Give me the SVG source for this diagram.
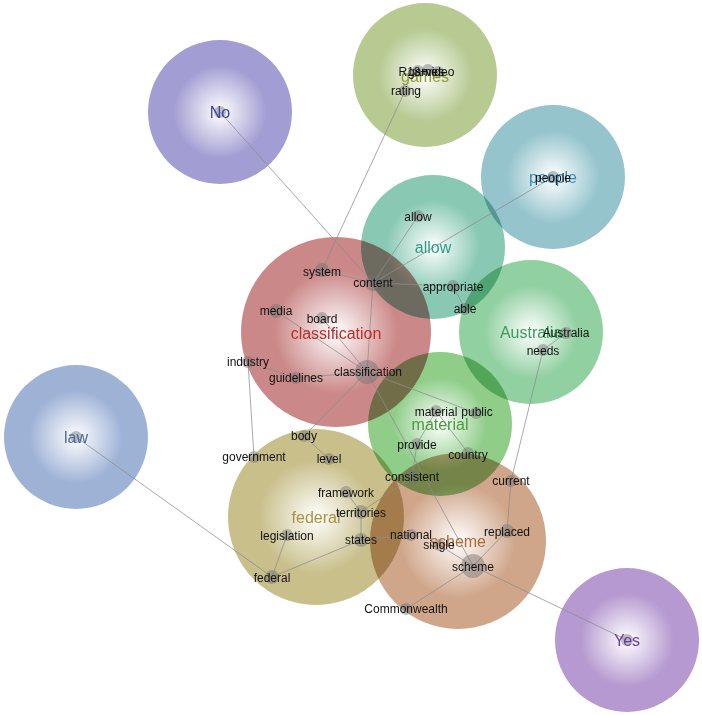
<svg xmlns="http://www.w3.org/2000/svg" width="702" height="715" viewBox="0 0 702 715">
<style>
.theme circle.bg{mix-blend-mode:multiply}
.tl{font-family:"Liberation Sans",Arial,sans-serif;font-size:16px;text-anchor:middle}
.cl{font-family:"Liberation Sans",Arial,sans-serif;font-size:12px;fill:#111;text-anchor:middle}
.dot{fill:#707070;fill-opacity:0.45}
#edges line{stroke:#8c8c8c;stroke-width:1;stroke-opacity:0.75}
</style>
<defs>
<radialGradient id="gNo"><stop offset="0" stop-color="#ffffff"/><stop offset="0.65" stop-color="#a29dd2"/></radialGradient>
<radialGradient id="gGames"><stop offset="0" stop-color="#ffffff"/><stop offset="0.65" stop-color="#b6ca92"/></radialGradient>
<radialGradient id="gPeople"><stop offset="0" stop-color="#ffffff"/><stop offset="0.65" stop-color="#95c4cd"/></radialGradient>
<radialGradient id="gAllow"><stop offset="0" stop-color="#ffffff"/><stop offset="0.65" stop-color="#89c9b4"/></radialGradient>
<radialGradient id="gAus"><stop offset="0" stop-color="#ffffff"/><stop offset="0.65" stop-color="#91d0a1"/></radialGradient>
<radialGradient id="gClass"><stop offset="0" stop-color="#ffffff"/><stop offset="0.65" stop-color="#cb8888"/></radialGradient>
<radialGradient id="gMat"><stop offset="0" stop-color="#ffffff"/><stop offset="0.65" stop-color="#8fcd89"/></radialGradient>
<radialGradient id="gLaw"><stop offset="0" stop-color="#ffffff"/><stop offset="0.65" stop-color="#9eb2d6"/></radialGradient>
<radialGradient id="gFed"><stop offset="0" stop-color="#ffffff"/><stop offset="0.65" stop-color="#c9bf8b"/></radialGradient>
<radialGradient id="gSch"><stop offset="0" stop-color="#ffffff"/><stop offset="0.65" stop-color="#d0a68a"/></radialGradient>
<radialGradient id="gYes"><stop offset="0" stop-color="#ffffff"/><stop offset="0.65" stop-color="#b699d0"/></radialGradient>
</defs>
<rect width="702" height="715" fill="#ffffff"/>

<g id="themes">
<g id="theme-no" class="theme"><circle class="bg" cx="220" cy="112" r="72" fill="url(#gNo)"/></g>
<g id="theme-games" class="theme"><circle class="bg" cx="425" cy="75" r="72" fill="url(#gGames)"/></g>
<g id="theme-people" class="theme"><circle class="bg" cx="553" cy="177" r="72" fill="url(#gPeople)"/></g>
<g id="theme-allow" class="theme"><circle class="bg" cx="433" cy="247" r="72" fill="url(#gAllow)"/></g>
<g id="theme-australia" class="theme"><circle class="bg" cx="531" cy="332" r="72" fill="url(#gAus)"/></g>
<g id="theme-classification" class="theme"><circle class="bg" cx="336" cy="332" r="95" fill="url(#gClass)"/></g>
<g id="theme-material" class="theme"><circle class="bg" cx="440" cy="424" r="72" fill="url(#gMat)"/></g>
<g id="theme-law" class="theme"><circle class="bg" cx="76" cy="437" r="72" fill="url(#gLaw)"/></g>
<g id="theme-federal" class="theme"><circle class="bg" cx="316" cy="517" r="88" fill="url(#gFed)"/></g>
<g id="theme-scheme" class="theme"><circle class="bg" cx="458" cy="541" r="88" fill="url(#gSch)"/></g>
<g id="theme-yes" class="theme"><circle class="bg" cx="627" cy="640" r="72" fill="url(#gYes)"/></g>
</g>

<g id="edges">
<line x1="220" y1="112" x2="373" y2="283"/>
<line x1="405" y1="91" x2="322" y2="270"/>
<line x1="322" y1="270" x2="373" y2="283"/>
<line x1="373" y1="283" x2="418" y2="216"/>
<line x1="373" y1="283" x2="553" y2="177"/>
<line x1="373" y1="283" x2="453" y2="286"/>
<line x1="453" y1="286" x2="465" y2="309"/>
<line x1="373" y1="283" x2="367" y2="372"/>
<line x1="276" y1="311" x2="367" y2="372"/>
<line x1="322" y1="318" x2="367" y2="372"/>
<line x1="296" y1="378" x2="367" y2="372"/>
<line x1="248" y1="362" x2="296" y2="378"/>
<line x1="248" y1="362" x2="254" y2="457"/>
<line x1="367" y1="372" x2="304" y2="436"/>
<line x1="304" y1="436" x2="329" y2="459"/>
<line x1="367" y1="372" x2="476" y2="413"/>
<line x1="367" y1="372" x2="473" y2="566"/>
<line x1="436" y1="411" x2="468" y2="453"/>
<line x1="436" y1="411" x2="417" y2="444"/>
<line x1="417" y1="444" x2="412" y2="477"/>
<line x1="566" y1="333" x2="543" y2="350"/>
<line x1="543" y1="350" x2="511" y2="481"/>
<line x1="511" y1="481" x2="507" y2="531"/>
<line x1="507" y1="531" x2="473" y2="566"/>
<line x1="439" y1="545" x2="473" y2="566"/>
<line x1="411" y1="535" x2="361" y2="540"/>
<line x1="412" y1="477" x2="361" y2="512"/>
<line x1="346" y1="492" x2="361" y2="512"/>
<line x1="361" y1="512" x2="361" y2="540"/>
<line x1="361" y1="540" x2="272" y2="577"/>
<line x1="287" y1="535" x2="272" y2="577"/>
<line x1="76" y1="437" x2="272" y2="577"/>
<line x1="473" y1="566" x2="406" y2="609"/>
<line x1="473" y1="566" x2="627" y2="640"/>
</g>

<g id="dots">
<circle class="dot" cx="220" cy="112" r="6"/>
<circle class="dot" cx="76" cy="437" r="6"/>
<circle class="dot" cx="627" cy="640" r="6"/>
<circle class="dot" cx="405" cy="91" r="6"/>
<circle class="dot" cx="418" cy="71" r="6"/>
<circle class="dot" cx="428" cy="70" r="6"/>
<circle class="dot" cx="438" cy="72" r="6"/>
<circle class="dot" cx="553" cy="177" r="6"/>
<circle class="dot" cx="418" cy="216" r="6"/>
<circle class="dot" cx="322" cy="270" r="7"/>
<circle class="dot" cx="373" cy="283" r="8"/>
<circle class="dot" cx="453" cy="286" r="6"/>
<circle class="dot" cx="465" cy="309" r="6"/>
<circle class="dot" cx="276" cy="311" r="7"/>
<circle class="dot" cx="322" cy="318" r="6"/>
<circle class="dot" cx="367" cy="372" r="12"/>
<circle class="dot" cx="248" cy="362" r="6"/>
<circle class="dot" cx="296" cy="378" r="6"/>
<circle class="dot" cx="566" cy="333" r="6"/>
<circle class="dot" cx="543" cy="350" r="6"/>
<circle class="dot" cx="436" cy="411" r="6"/>
<circle class="dot" cx="476" cy="413" r="6"/>
<circle class="dot" cx="417" cy="444" r="6"/>
<circle class="dot" cx="468" cy="453" r="6"/>
<circle class="dot" cx="412" cy="477" r="7"/>
<circle class="dot" cx="511" cy="481" r="6"/>
<circle class="dot" cx="304" cy="436" r="6"/>
<circle class="dot" cx="329" cy="459" r="6"/>
<circle class="dot" cx="254" cy="457" r="6"/>
<circle class="dot" cx="346" cy="492" r="6"/>
<circle class="dot" cx="361" cy="512" r="7"/>
<circle class="dot" cx="287" cy="535" r="6"/>
<circle class="dot" cx="361" cy="540" r="7"/>
<circle class="dot" cx="411" cy="535" r="6"/>
<circle class="dot" cx="439" cy="545" r="6"/>
<circle class="dot" cx="507" cy="531" r="7"/>
<circle class="dot" cx="473" cy="566" r="12"/>
<circle class="dot" cx="272" cy="577" r="7"/>
<circle class="dot" cx="406" cy="609" r="6"/>
</g>

<g id="theme-labels">
<text class="tl" x="220" y="118" fill="#3b46a6">No</text>
<text class="tl" x="425" y="82" fill="#8c9c32">games</text>
<text class="tl" x="553" y="183" fill="#3a8db2">people</text>
<text class="tl" x="433" y="253" fill="#2d9c8a">allow</text>
<text class="tl" x="531" y="338" fill="#3a9c5a">Australia</text>
<text class="tl" x="336" y="339" fill="#c12a2a">classification</text>
<text class="tl" x="440" y="430" fill="#4c9c3c">material</text>
<text class="tl" x="76" y="443" fill="#4a68a2">law</text>
<text class="tl" x="316" y="523" fill="#a89244">federal</text>
<text class="tl" x="458" y="547" fill="#b06a34">scheme</text>
<text class="tl" x="627" y="646" fill="#6a3aa2">Yes</text>
</g>

<g id="nodes">
<g id="n-rating"><text class="cl" x="406" y="95">rating</text></g>
<g id="n-r18"><text class="cl" x="413" y="76">R18+</text></g>
<g id="n-games"><text class="cl" x="426" y="76">games</text></g>
<g id="n-video"><text class="cl" x="440" y="76">video</text></g>
<g id="n-people"><text class="cl" x="553" y="182">people</text></g>
<g id="n-allow"><text class="cl" x="418" y="221">allow</text></g>
<g id="n-system"><text class="cl" x="322" y="276">system</text></g>
<g id="n-content"><text class="cl" x="373" y="287">content</text></g>
<g id="n-appropriate"><text class="cl" x="453" y="291">appropriate</text></g>
<g id="n-able"><text class="cl" x="465" y="313">able</text></g>
<g id="n-media"><text class="cl" x="276" y="315">media</text></g>
<g id="n-board"><text class="cl" x="322" y="323">board</text></g>
<g id="n-classification"><text class="cl" x="368" y="376">classification</text></g>
<g id="n-industry"><text class="cl" x="248" y="366">industry</text></g>
<g id="n-guidelines"><text class="cl" x="296" y="382">guidelines</text></g>
<g id="n-australia"><text class="cl" x="566" y="337">Australia</text></g>
<g id="n-needs"><text class="cl" x="543" y="355">needs</text></g>
<g id="n-material"><text class="cl" x="436" y="416">material</text></g>
<g id="n-public"><text class="cl" x="477" y="416">public</text></g>
<g id="n-provide"><text class="cl" x="417" y="449">provide</text></g>
<g id="n-country"><text class="cl" x="468" y="459">country</text></g>
<g id="n-consistent"><text class="cl" x="412" y="481">consistent</text></g>
<g id="n-current"><text class="cl" x="511" y="485">current</text></g>
<g id="n-body"><text class="cl" x="304" y="440">body</text></g>
<g id="n-level"><text class="cl" x="329" y="463">level</text></g>
<g id="n-government"><text class="cl" x="254" y="461">government</text></g>
<g id="n-framework"><text class="cl" x="346" y="497">framework</text></g>
<g id="n-territories"><text class="cl" x="361" y="517">territories</text></g>
<g id="n-legislation"><text class="cl" x="287" y="540">legislation</text></g>
<g id="n-states"><text class="cl" x="361" y="544">states</text></g>
<g id="n-national"><text class="cl" x="411" y="539">national</text></g>
<g id="n-single"><text class="cl" x="439" y="549">single</text></g>
<g id="n-replaced"><text class="cl" x="507" y="536">replaced</text></g>
<g id="n-scheme"><text class="cl" x="473" y="571">scheme</text></g>
<g id="n-federal"><text class="cl" x="272" y="582">federal</text></g>
<g id="n-commonwealth"><text class="cl" x="406" y="613">Commonwealth</text></g>
</g>
</svg>
